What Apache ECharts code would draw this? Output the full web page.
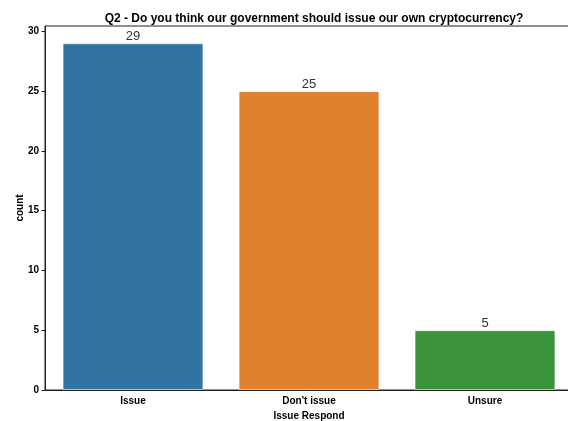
<!DOCTYPE html>
<html><head><meta charset="utf-8">
<script src="https://cdn.jsdelivr.net/npm/echarts@6/dist/echarts.min.js"></script>
<style>html,body{margin:0;padding:0;background:#fff}#c{width:568px;height:421px}</style>
</head><body><div id="c"></div>
<script>
const categories = ["Issue", "Don't issue", "Unsure"];
const counts = [29, 25, 5];
const barColors = ["#3274a1", "#e1812c", "#3a923a"];
const yTicks = [0, 5, 10, 15, 20, 25, 30];
const titleText = "Q2 - Do you think our government should issue our own cryptocurrency?";

const chart = echarts.init(document.getElementById('c'), null, {renderer: 'canvas'});
const font = 'Liberation Sans';
chart.setOption({
  animation: false,
  title: {
    text: titleText, left: 309, top: 8, textAlign: 'center',
    textStyle: {fontFamily: font, fontWeight: 'bold', fontSize: 12, color: '#000'}
  },
  grid: {left: 45, top: 26, width: 528, height: 364, outerBoundsMode: 'none', containLabel: false,
         show: true, borderColor: '#222', borderWidth: 1},
  xAxis: {
    type: 'category', data: categories,
    name: 'Issue Respond', nameLocation: 'middle', nameGap: 20,
    nameTextStyle: {fontFamily: font, fontWeight: 'bold', fontSize: 10, color: '#000'},
    axisLine: {lineStyle: {color: '#222', width: 1}},
    axisTick: {alignWithLabel: true, length: 3.5, lineStyle: {color: '#222'}},
    axisLabel: {fontFamily: font, fontWeight: 'bold', fontSize: 10, color: '#000', margin: 6}
  },
  yAxis: {
    type: 'value', min: 0, max: 30.45, interval: 5,
    name: 'count', nameLocation: 'middle', nameGap: 20, nameMoveOverlap: false,
    nameTextStyle: {fontFamily: font, fontWeight: 'bold', fontSize: 10, color: '#000'},
    axisLine: {show: true, lineStyle: {color: '#222', width: 1}},
    axisTick: {show: true, length: 3.5, lineStyle: {color: '#222'}, customValues: yTicks},
    axisLabel: {fontFamily: font, fontWeight: 'bold', fontSize: 10, color: '#000', margin: 6, customValues: yTicks},
    splitLine: {show: false}
  },
  series: [{
    type: 'bar', barCategoryGap: '20%',
    data: counts.map((v, i) => ({value: v, itemStyle: {color: barColors[i]}})),
    itemStyle: {borderColor: 'rgba(255,255,255,0.5)', borderWidth: 1},
    label: {show: true, position: 'top', distance: 0, fontFamily: font, fontSize: 13, color: '#333'}
  }]
});
</script></body></html>
